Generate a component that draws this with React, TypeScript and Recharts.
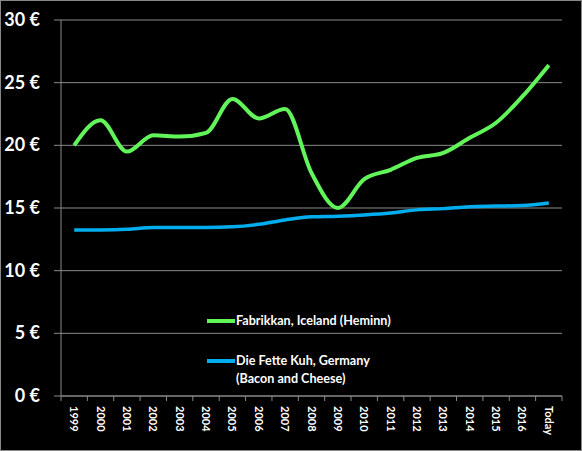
import React from "react";
import { LineChart, Line, XAxis, YAxis, CartesianGrid, Legend } from "recharts";

const years = ["1999","2000","2001","2002","2003","2004","2005","2006","2007","2008","2009","2010","2011","2012","2013","2014","2015","2016","Today"];
const fabrikkan = [20.0,22.0,19.5,20.8,20.7,21.0,23.7,22.15,22.9,17.8,15.0,17.3,18.05,19.0,19.4,20.6,21.8,23.9,26.4];
const fetteKuh = [13.25,13.25,13.3,13.45,13.45,13.45,13.5,13.7,14.05,14.3,14.35,14.45,14.6,14.85,14.95,15.1,15.15,15.2,15.4];
const yTicks = [0,5,10,15,20,25,30];

const GREEN = "#62F55A";
const BLUE = "#00AEEF";
const GRID = "#8A8A8A";
const FONT = "Lato, 'Open Sans', sans-serif";

const data = years.map((y, i) => ({ year: y, fabrikkan: fabrikkan[i], fette: fetteKuh[i] }));

const XTick = (props: any) => {
  const { x, y, payload, index, visibleTicksCount } = props;
  const band = 501 / years.length;
  const half = band / 2;
  const isLast = index === (visibleTicksCount ?? years.length) - 1;
  return (
    <g>
      <line x1={x - half} x2={x - half} y1={y - 8} y2={y - 3} stroke={GRID} strokeWidth={1} />
      {isLast && <line x1={x + half} x2={x + half} y1={y - 8} y2={y - 3} stroke={GRID} strokeWidth={1} />}
      <text
        x={0}
        y={0}
        transform={`translate(${x - 4},${y + 2}) rotate(90)`}
        fill="#fff"
        fontFamily={FONT}
        fontWeight="bold"
        fontSize={11}
        textAnchor="start"
      >
        {payload.value}
      </text>
    </g>
  );
};

const YTick = (props: any) => {
  const { x, y, payload } = props;
  return (
    <text x={x - 12} y={y + 6} fill="#fff" fontFamily={FONT} fontWeight="bold" fontSize={18} textAnchor="end">
      {`${payload.value} €`}
    </text>
  );
};

const LegendContent = () => (
  <div style={{ fontFamily: FONT, fontWeight: "bold", fontSize: 12.6, color: "#fff", lineHeight: "18px" }}>
    <div style={{ display: "flex", alignItems: "flex-start" }}>
      <div style={{ width: 28, height: 4, background: GREEN, marginTop: 7 }} />
      <div style={{ marginLeft: 1 }}>Fabrikkan, Iceland (Heminn)</div>
    </div>
    <div style={{ display: "flex", alignItems: "flex-start", marginTop: 22 }}>
      <div style={{ width: 28, height: 4, background: BLUE, marginTop: 7 }} />
      <div style={{ marginLeft: 1 }}>
        Die Fette Kuh, Germany
        <br />
        (Bacon and Cheese)
      </div>
    </div>
  </div>
);

export default function App() {
  return (
    <div style={{ position: "fixed", left: 0, top: 0, width: 582, height: 451, background: "#000" }}>
      <LineChart width={582} height={451} data={data} margin={{ top: 20, right: 20, bottom: 0, left: 0 }}>
        <CartesianGrid vertical={false} stroke={GRID} strokeWidth={1} />
        <XAxis
          dataKey="year"
          scale="band"
          interval={0}
          height={55}
          stroke={GRID}
          tickLine={false}
          tick={<XTick />}
        />
        <YAxis
          domain={[0, 30]}
          ticks={yTicks}
          width={61}
          stroke={GRID}
          tickSize={7}
          tick={<YTick />}
        />
        <Legend
          layout="vertical"
          verticalAlign="middle"
          align="center"
          wrapperStyle={{ position: "absolute", left: 207, top: 312, width: 230, height: 80 }}
          content={<LegendContent />}
        />
        <Line type="monotone" dataKey="fabrikkan" stroke={GREEN} strokeWidth={4} dot={false} isAnimationActive={false} />
        <Line type="monotone" dataKey="fette" stroke={BLUE} strokeWidth={3.5} dot={false} isAnimationActive={false} />
      </LineChart>
      <div style={{ position: "absolute", left: 0, top: 0, width: 580, height: 449, border: "1px solid #888", pointerEvents: "none" }} />
    </div>
  );
}
